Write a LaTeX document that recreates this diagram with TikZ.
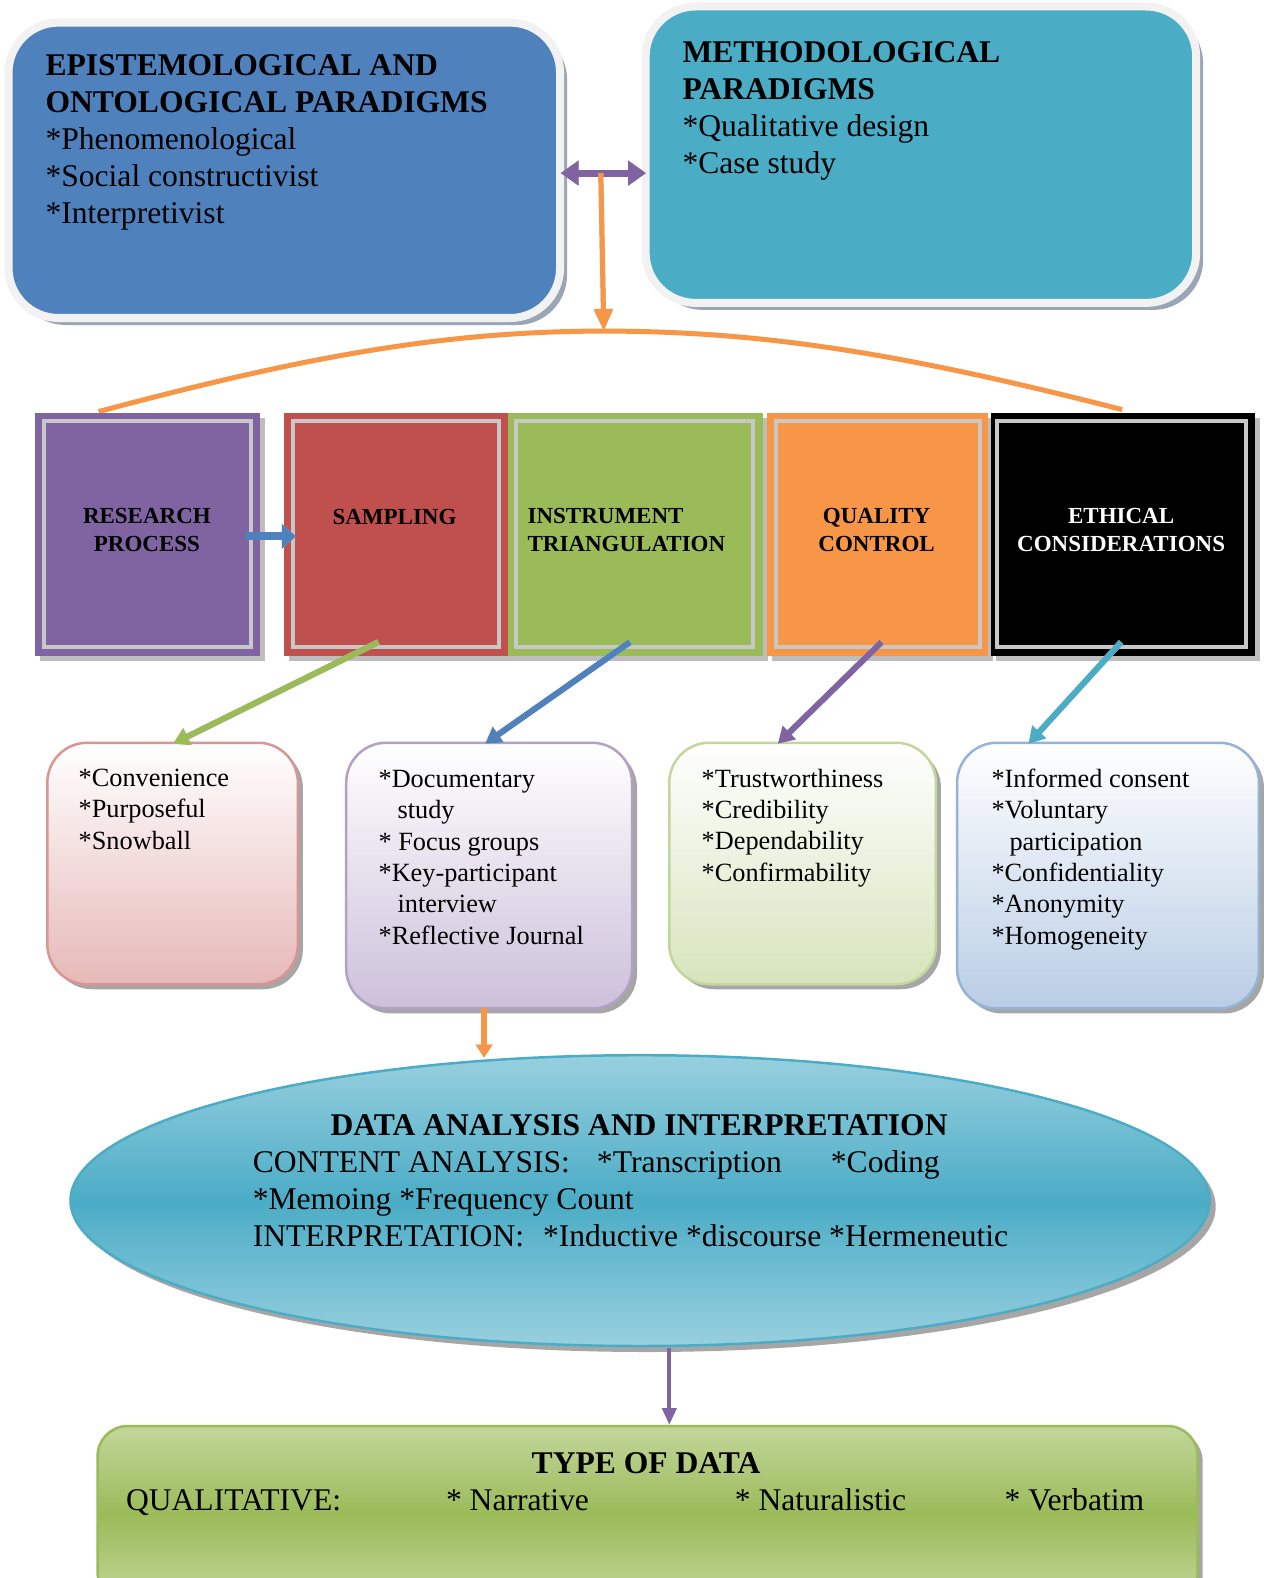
\documentclass[tikz,border=0pt]{standalone}
\usepackage{fontspec}
\setmainfont{Liberation Serif}
\usetikzlibrary{arrows.meta,shadows,shapes.geometric,calc}
\definecolor{cblue}{HTML}{4F81BD}
\definecolor{cteal}{HTML}{4BACC6}
\definecolor{cpurple}{HTML}{8064A2}
\definecolor{cred}{HTML}{C0504D}
\definecolor{cgreen}{HTML}{9BBB59}
\definecolor{corange}{HTML}{F79646}
\definecolor{glowgray}{HTML}{F2F2F2}
\definecolor{shadowblue}{HTML}{9AA5B5}
\definecolor{framegray}{HTML}{C8C8C8}
\definecolor{shgray}{HTML}{BDBDBD}
\definecolor{ltteal}{HTML}{98D0DF}
\definecolor{ltgreen}{HTML}{C3D69B}
\definecolor{pinkb}{HTML}{D99594}
\definecolor{pinkf}{HTML}{E6B9B8}
\definecolor{lavb}{HTML}{B2A1C7}
\definecolor{lavf}{HTML}{CCC0DA}
\definecolor{lgb}{HTML}{C3D69B}
\definecolor{lgf}{HTML}{D7E4BD}
\definecolor{lbb}{HTML}{95B3D7}
\definecolor{lbf}{HTML}{B9CDE5}
\newcommand{\fbig}{\fontsize{31.6}{37}\selectfont}
\newcommand{\fmid}{\fontsize{26.3}{31.3}\selectfont}
\newcommand{\fsml}{\fontsize{23}{28}\selectfont}
\begin{document}
\begin{tikzpicture}[x=1pt,y=-1pt,
  glowbox/.style={draw=glowgray, line width=8pt, rounded corners=50pt, inner sep=0pt,
    drop shadow={shadow xshift=7pt, shadow yshift=-7pt, fill=shadowblue, opacity=1}},
  rowbox/.style={rectangle, inner sep=0pt, minimum height=243.5pt,
    drop shadow={shadow xshift=5pt, shadow yshift=-5pt, fill=shgray, opacity=1}},
  innerframe/.style={draw=framegray, line width=4pt},
  softbox/.style={rectangle, rounded corners=40pt, line width=2.5pt, inner sep=0pt, top color=white,
    drop shadow={shadow xshift=5pt, shadow yshift=-5pt, fill=black!35, opacity=1}},
  bigtxt/.style={font=\fbig, inner sep=0pt, align=left, anchor=base west},
  midtxt/.style={font=\fmid, inner sep=0pt, align=left, anchor=base west},
  rowtxt/.style={font=\fsml\bfseries, inner sep=0pt, align=center, anchor=base},
  arrshadow/.style={draw=shgray, shift={(5,4)}},
  tri/.style 2 args={-{Triangle[length=#1,width=#2]}}
]
\useasboundingbox (0,0) rectangle (1263,1578);
\fill[white] (0,0) rectangle (1263,1578);

% top boxes
\node[glowbox, fill=cblue, minimum width=551.5pt, minimum height=295.4pt] (epi) at (284.3,170.3) {};
\node[glowbox, fill=cteal, minimum width=550.5pt, minimum height=296.4pt] (meth) at (920.9,154.7) {};
% (base anchor of a multi-line node = baseline of its last line)
\node[bigtxt] (epit) at (45.3,224) {\textbf{EPISTEMOLOGICAL AND}\\\textbf{ONTOLOGICAL PARADIGMS}\\*Phenomenological\\*Social constructivist\\*Interpretivist};
\node[bigtxt] (metht) at (682.3,174) {\textbf{METHODOLOGICAL}\\\textbf{PARADIGMS}\\*Qualitative design\\*Case study};

% arrows between top boxes
\coordinate (dl) at (560.6,173.1);
\coordinate (dr) at (646.1,173.1);
\coordinate (dm) at (600.8,173.1);
\coordinate (archtop) at (603.8,331.1);
\draw[arrshadow, line width=7pt, {Triangle[length=18pt,width=24pt]}-{Triangle[length=18pt,width=24pt]}] (dl) -- (dr);
\draw[cpurple, line width=7pt, {Triangle[length=18pt,width=24pt]}-{Triangle[length=18pt,width=24pt]}] (dl) -- (dr);
\draw[arrshadow, line width=5pt, tri={22pt}{18pt}] (dm) -- (archtop);
\draw[corange, line width=5pt, tri={22pt}{18pt}] (dm) -- (archtop);

% arc
\coordinate (arcl) at (98.6,411.6);
\coordinate (arcr) at (1122.1,409.6);
\draw[corange, line width=5pt] (arcl) .. controls (301.9,357.3) and (442.8,331.1) .. (archtop) .. controls (764.9,331.1) and (905.8,354.3) .. (arcr);

% row boxes
\node[rowbox, fill=cpurple, minimum width=224.4pt] (rp) at (147.4,534.4) {};
\draw[innerframe] ($(rp.north west)+(9,9)$) rectangle ($(rp.south east)+(-9,-9)$);
\node[rowbox, fill=cred, minimum width=224.4pt] (samp) at (396,534.4) {};
\draw[innerframe] ($(samp.north west)+(9,9)$) rectangle ($(samp.south east)+(-9,-9)$);
\node[rowbox, fill=cgreen, minimum width=254.6pt] (inst) at (635.5,534.4) {};
\draw[innerframe] ($(inst.north west)+(8,9)$) rectangle ($(inst.south east)+(-10,-9)$);
\node[rowbox, fill=corange, minimum width=221.4pt] (qual) at (877.6,534.4) {};
\draw[innerframe] ($(qual.north west)+(9,9)$) rectangle ($(qual.south east)+(-9,-9)$);
\node[rowbox, fill=black, minimum width=263.7pt] (eth) at (1123.1,534.4) {};
\draw[innerframe] ($(eth.north west)+(6,9)$) rectangle ($(eth.south east)+(-9,-9)$);

\node[rowtxt] (rpt) at (146.9,551) {RESEARCH\\PROCESS};
\node[rowtxt] (sampt) at (394.5,524) {SAMPLING};
\node[rowtxt, align=left, anchor=base west] (instt) at (527.4,551) {INSTRUMENT\\TRIANGULATION};
\node[rowtxt] (qualt) at (876.6,551) {QUALITY\\CONTROL};
\node[rowtxt, text=white] (etht) at (1121.1,551) {ETHICAL\\CONSIDERATIONS};

% small blue arrow
\coordinate (ba1) at (245.6,536.4);
\coordinate (ba2) at (295.9,536.4);
\draw[arrshadow, line width=8pt, tri={14pt}{24pt}] (ba1) -- (ba2);
\draw[cblue, line width=8pt, tri={14pt}{24pt}] (ba1) -- (ba2);

% small boxes
\node[softbox, draw=pinkb, bottom color=pinkf, minimum width=250.6pt, minimum height=241.5pt] (b1) at (172.6,863.5) {};
\node[softbox, draw=lavb, bottom color=lavf, minimum width=285.8pt, minimum height=265.7pt] (b2) at (489.1,875.6) {};
\node[softbox, draw=lgb, bottom color=lgf, minimum width=266.7pt, minimum height=241.5pt] (b3) at (802.6,863.5) {};
\node[softbox, draw=lbb, bottom color=lbf, minimum width=301.9pt, minimum height=265.7pt] (b4) at (1108,875.6) {};

\node[midtxt] (b1t) at (78.5,849) {*Convenience\\*Purposeful\\*Snowball};
\node[midtxt] (b2t) at (378.4,944) {*Documentary\\\hspace*{19pt}study\\* Focus groups\\*Key-participant\\\hspace*{19pt}interview\\*Reflective Journal};
\node[midtxt] (b3t) at (701.5,881) {*Trustworthiness\\*Credibility\\*Dependability\\*Confirmability};
\node[midtxt] (b4t) at (991.3,944) {*Informed consent\\*Voluntary\\\hspace*{18pt}participation\\*Confidentiality\\*Anonymity\\*Homogeneity};

% diagonal arrows
\coordinate (g1) at (378.4,642.1); \coordinate (g2) at (173.1,743.7);
\coordinate (u1) at (630,642.1); \coordinate (u2) at (485.1,743.7);
\coordinate (p1) at (881.6,642.1); \coordinate (p2) at (777.9,743.7);
\coordinate (t1) at (1121.1,642.1); \coordinate (t2) at (1028.5,743.7);
\foreach \a/\b/\c in {g1/g2/cgreen,u1/u2/cblue,p1/p2/cpurple,t1/t2/cteal}{
  \draw[arrshadow, line width=6pt, tri={16pt}{18pt}] (\a) -- (\b);
  \draw[\c, line width=6pt, tri={16pt}{18pt}] (\a) -- (\b);
}

% ellipse
\node[ellipse, minimum width=1139.2pt, minimum height=290.8pt, inner sep=0pt, draw=cteal, line width=2.5pt,
  top color=ltteal, bottom color=ltteal, middle color=cteal,
  drop shadow={shadow xshift=6pt, shadow yshift=-6pt, fill=black!35, opacity=1}] (ana) at (640.1,1200.6) {};
\node[font=\fbig\bfseries, inner sep=0pt, anchor=base] (anah) at (639.1,1135) {DATA ANALYSIS AND INTERPRETATION};
\node[bigtxt] (anat) at (252.6,1246) {CONTENT ANALYSIS:\hspace{27pt}*Transcription\hspace{49pt}*Coding\\*Memoing *Frequency Count\\INTERPRETATION:\hspace{19pt}*Inductive *discourse *Hermeneutic};

\coordinate (o1) at (484.1,1008.4); \coordinate (o2) at (484.1,1057.7);
\draw[arrshadow, line width=6pt, tri={13pt}{16pt}] (o1) -- (o2);
\draw[corange, line width=6pt, tri={13pt}{16pt}] (o1) -- (o2);

% bottom box
\node[rectangle, rounded corners=30pt, inner sep=0pt, minimum width=1100pt, minimum height=176.1pt,
  draw=cgreen, line width=2.5pt, top color=ltgreen, bottom color=ltgreen, middle color=cgreen,
  drop shadow={shadow xshift=5pt, shadow yshift=-5pt, fill=black!35, opacity=1}] (tod) at (647.6,1514.1) {};
\coordinate (v1) at (669.3,1347.6); \coordinate (v2) at (669.3,1425);
\draw[cpurple, line width=4pt, tri={17pt}{14pt}] (v1) -- (v2);

\node[font=\fbig\bfseries, inner sep=0pt, anchor=base] (todh) at (646.1,1473) {TYPE OF DATA};
\node[bigtxt] (q0) at (125.8,1510) {QUALITATIVE:};
\node[bigtxt] (q1) at (445.8,1510) {* Narrative};
\node[bigtxt] (q2) at (734.7,1510) {* Naturalistic};
\node[bigtxt] (q3) at (1004.4,1510) {* Verbatim};
\end{tikzpicture}
\end{document}
